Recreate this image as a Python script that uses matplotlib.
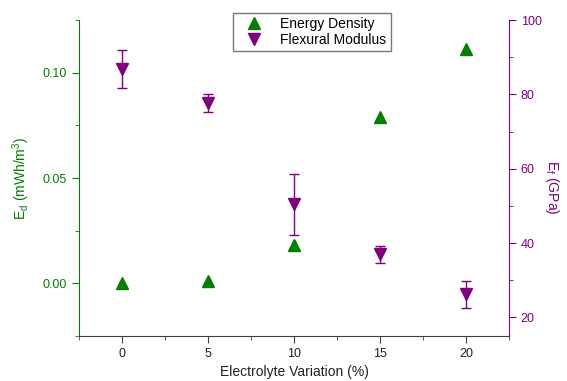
import matplotlib
matplotlib.use("Agg")
import matplotlib.pyplot as plt
from matplotlib.ticker import MultipleLocator

plt.rcParams['font.family'] = ['Liberation Sans', 'DejaVu Sans']

variation = [0, 5, 10, 15, 20]
energy_density = [0.0, 0.001, 0.018, 0.079, 0.111]
flexural_modulus = [86.8, 77.6, 50.4, 37.0, 26.2]
flexural_err = [5.0, 2.4, 8.1, 2.3, 3.7]

green = '#008000'
purple = '#800080'

fig = plt.figure(figsize=(5.67, 3.81), dpi=100)
ax = fig.add_axes([0.1393, 0.1181, 0.7584, 0.8294])
ax2 = ax.twinx()

l1, = ax.plot(variation, energy_density, linestyle='none', marker='^',
              color=green, markersize=9, label='Energy Density')
eb = ax2.errorbar(variation, flexural_modulus, yerr=flexural_err, linestyle='none',
                  marker='v', color=purple, markersize=9, capsize=3.5,
                  elinewidth=1, capthick=1, label='Flexural Modulus')

ax.set_xlim(-2.5, 22.5)
ax.set_ylim(-0.025, 0.125)
ax2.set_ylim(15, 100)

ax.xaxis.set_major_locator(MultipleLocator(5))
ax.xaxis.set_minor_locator(MultipleLocator(2.5))
ax.yaxis.set_major_locator(MultipleLocator(0.05))
ax.yaxis.set_minor_locator(MultipleLocator(0.025))
ax2.yaxis.set_major_locator(MultipleLocator(20))
ax2.yaxis.set_minor_locator(MultipleLocator(10))
ax.yaxis.set_major_formatter(plt.FormatStrFormatter('%.2f'))

for a in (ax, ax2):
    a.spines['top'].set_visible(False)
ax.spines['right'].set_visible(False)
ax2.spines['left'].set_visible(False)
ax2.spines['bottom'].set_visible(False)
ax.spines['left'].set_color(green)
ax2.spines['right'].set_color(purple)
ax.spines['bottom'].set_color('#404040')

ax.tick_params(axis='x', which='both', direction='out', colors='#404040',
               labelcolor='#222222', labelsize=9)
ax.tick_params(axis='x', which='major', length=5)
ax.tick_params(axis='x', which='minor', length=3)
ax.tick_params(axis='y', which='both', direction='out', colors=green, labelsize=9)
ax.tick_params(axis='y', which='major', length=5)
ax.tick_params(axis='y', which='minor', length=3)
ax2.tick_params(axis='y', which='both', direction='out', colors=purple, labelsize=9)
ax2.tick_params(axis='y', which='major', length=5)
ax2.tick_params(axis='y', which='minor', length=3)

ax.set_xlabel('Electrolyte Variation (%)', fontsize=10, color='#222222', labelpad=4)
ax.set_ylabel('E$_\\mathregular{d}$ (mWh/m$^\\mathregular{3}$)', fontsize=10,
              color=green, labelpad=8)
ax2.set_ylabel('E$_\\mathregular{f}$ (GPa)', fontsize=10, color=purple,
               rotation=-90, labelpad=9)
ax2.yaxis.set_label_coords(1.12, 0.47)

leg = ax.legend([l1, eb.lines[0]], ['Energy Density', 'Flexural Modulus'],
                loc='upper center', bbox_to_anchor=(0.55, 0.966),
                bbox_transform=fig.transFigure, fontsize=10, frameon=True,
                fancybox=False, borderpad=0.3, labelspacing=0.15,
                handletextpad=0.7, handlelength=2.4, borderaxespad=0)
leg.get_frame().set_edgecolor('#555555')
leg.get_frame().set_linewidth(1)
leg.set_zorder(10)

fig.savefig('out.png', dpi=100)
